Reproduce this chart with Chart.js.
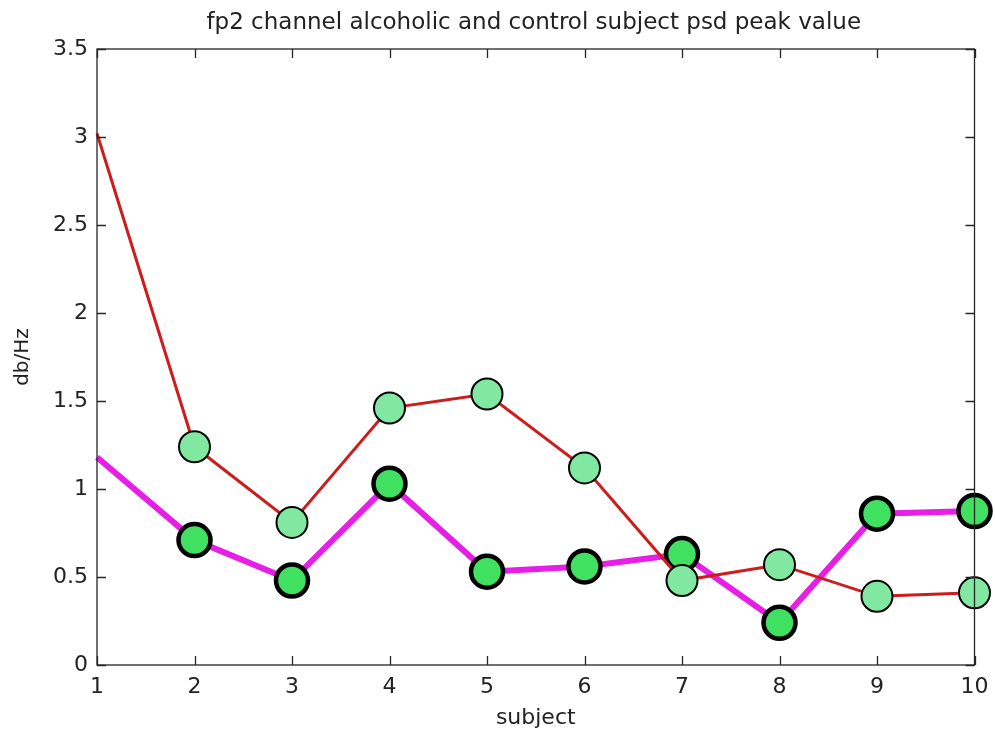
<!DOCTYPE html>
<html>
<head>
<meta charset="utf-8">
<script src="https://cdn.jsdelivr.net/npm/chart.js@4/dist/chart.umd.min.js"></script>
<style>
  html, body { margin: 0; padding: 0; background: #ffffff; }
  #wrap { width: 995px; height: 729px; }
</style>
</head>
<body>
<div id="wrap"><canvas id="c" width="995" height="729"></canvas></div>
<script>
// Subjects along the x axis
const subjects = [1, 2, 3, 4, 5, 6, 7, 8, 9, 10];
// PSD peak values (db/Hz) for the fp2 channel
const alcoholicPeak = [3.02, 1.24, 0.81, 1.46, 1.54, 1.12, 0.48, 0.57, 0.39, 0.41];
const controlPeak = [1.18, 0.71, 0.48, 1.03, 0.53, 0.56, 0.63, 0.24, 0.86, 0.875];
// Axis ticks
const xTicks = [1, 2, 3, 4, 5, 6, 7, 8, 9, 10];
const yTicks = [0, 0.5, 1, 1.5, 2, 2.5, 3, 3.5];

const titleText = 'fp2 channel alcoholic and control subject psd peak value';
const FONT = '"DejaVu Sans", Verdana, sans-serif';

const toPoints = (vals) => subjects.map((s, i) => ({ x: s, y: vals[i] }));
// first subject is drawn as a line end only, without a marker
const markerRadius = (r) => subjects.map((s, i) => (i === 0 ? 0 : r));

// Boxed axes with inward tick marks on all four sides, plus the title
const boxAxes = {
  id: 'boxAxes',
  afterDraw(chart) {
    const { ctx, chartArea: a, scales } = chart;
    const len = 9;
    ctx.save();
    ctx.strokeStyle = '#262626';
    ctx.lineWidth = 1.3;
    ctx.strokeRect(a.left, a.top, a.right - a.left, a.bottom - a.top);
    ctx.beginPath();
    xTicks.forEach(v => {
      const px = Math.round(scales.x.getPixelForValue(v)) + 0.5;
      ctx.moveTo(px, a.bottom); ctx.lineTo(px, a.bottom - len);
      ctx.moveTo(px, a.top); ctx.lineTo(px, a.top + len);
    });
    yTicks.forEach(v => {
      const py = Math.round(scales.y.getPixelForValue(v)) + 0.5;
      ctx.moveTo(a.left, py); ctx.lineTo(a.left + len, py);
      ctx.moveTo(a.right, py); ctx.lineTo(a.right - len, py);
    });
    ctx.stroke();

    ctx.fillStyle = '#222222';
    ctx.font = '23px ' + FONT;
    ctx.textAlign = 'center';
    ctx.textBaseline = 'middle';
    ctx.fillText(titleText, (a.left + a.right) / 2 - 2, 23);
    ctx.restore();
  }
};

const noOverflow = (s) => { s.paddingLeft = 0; s.paddingRight = 0; s.paddingTop = 0; s.paddingBottom = 0; };

new Chart(document.getElementById('c'), {
  type: 'line',
  data: {
    datasets: [
      {
        label: 'alcoholic',
        data: toPoints(alcoholicPeak),
        borderColor: '#cc1c1c',
        borderWidth: 3,
        pointRadius: markerRadius(15.5),
        pointBackgroundColor: '#80e8a0',
        pointBorderColor: '#000000',
        pointBorderWidth: 2,
        tension: 0,
        clip: false
      },
      {
        label: 'control',
        data: toPoints(controlPeak),
        borderColor: '#e61ee6',
        borderWidth: 6,
        pointRadius: markerRadius(16),
        pointBackgroundColor: '#40e060',
        pointBorderColor: '#000000',
        pointBorderWidth: 4.5,
        tension: 0,
        clip: false
      }
    ]
  },
  options: {
    responsive: false,
    animation: false,
    layout: { padding: { top: 49, right: 17, left: 0, bottom: 0 } },
    plugins: {
      legend: { display: false },
      tooltip: { enabled: false },
      title: { display: false }
    },
    scales: {
      x: {
        type: 'linear',
        min: 1,
        max: 10,
        afterBuildTicks: (s) => { s.ticks = xTicks.map(v => ({ value: v })); },
        afterFit: (s) => { s.height = 64; noOverflow(s); },
        grid: { display: false, drawTicks: false },
        border: { display: false },
        ticks: {
          padding: 9,
          color: '#222222',
          font: { family: FONT, size: 22 },
          maxRotation: 0,
          autoSkip: false,
          callback: (v) => String(v)
        },
        title: {
          display: true,
          text: 'subject',
          color: '#222222',
          font: { family: FONT, size: 22, lineHeight: 1 },
          padding: { top: 0, bottom: 0 }
        }
      },
      y: {
        type: 'linear',
        min: 0,
        max: 3.5,
        afterBuildTicks: (s) => { s.ticks = yTicks.map(v => ({ value: v })); },
        afterFit: (s) => { s.width = 97; noOverflow(s); },
        grid: { display: false, drawTicks: false },
        border: { display: false },
        ticks: {
          padding: 9,
          color: '#222222',
          font: { family: FONT, size: 22 },
          autoSkip: false,
          callback: (v) => String(v)
        },
        title: {
          display: true,
          text: 'db/Hz',
          color: '#222222',
          font: { family: FONT, size: 20, lineHeight: 1 },
          padding: { top: 13, bottom: 0 }
        }
      }
    }
  },
  plugins: [boxAxes]
});
</script>
</body>
</html>
